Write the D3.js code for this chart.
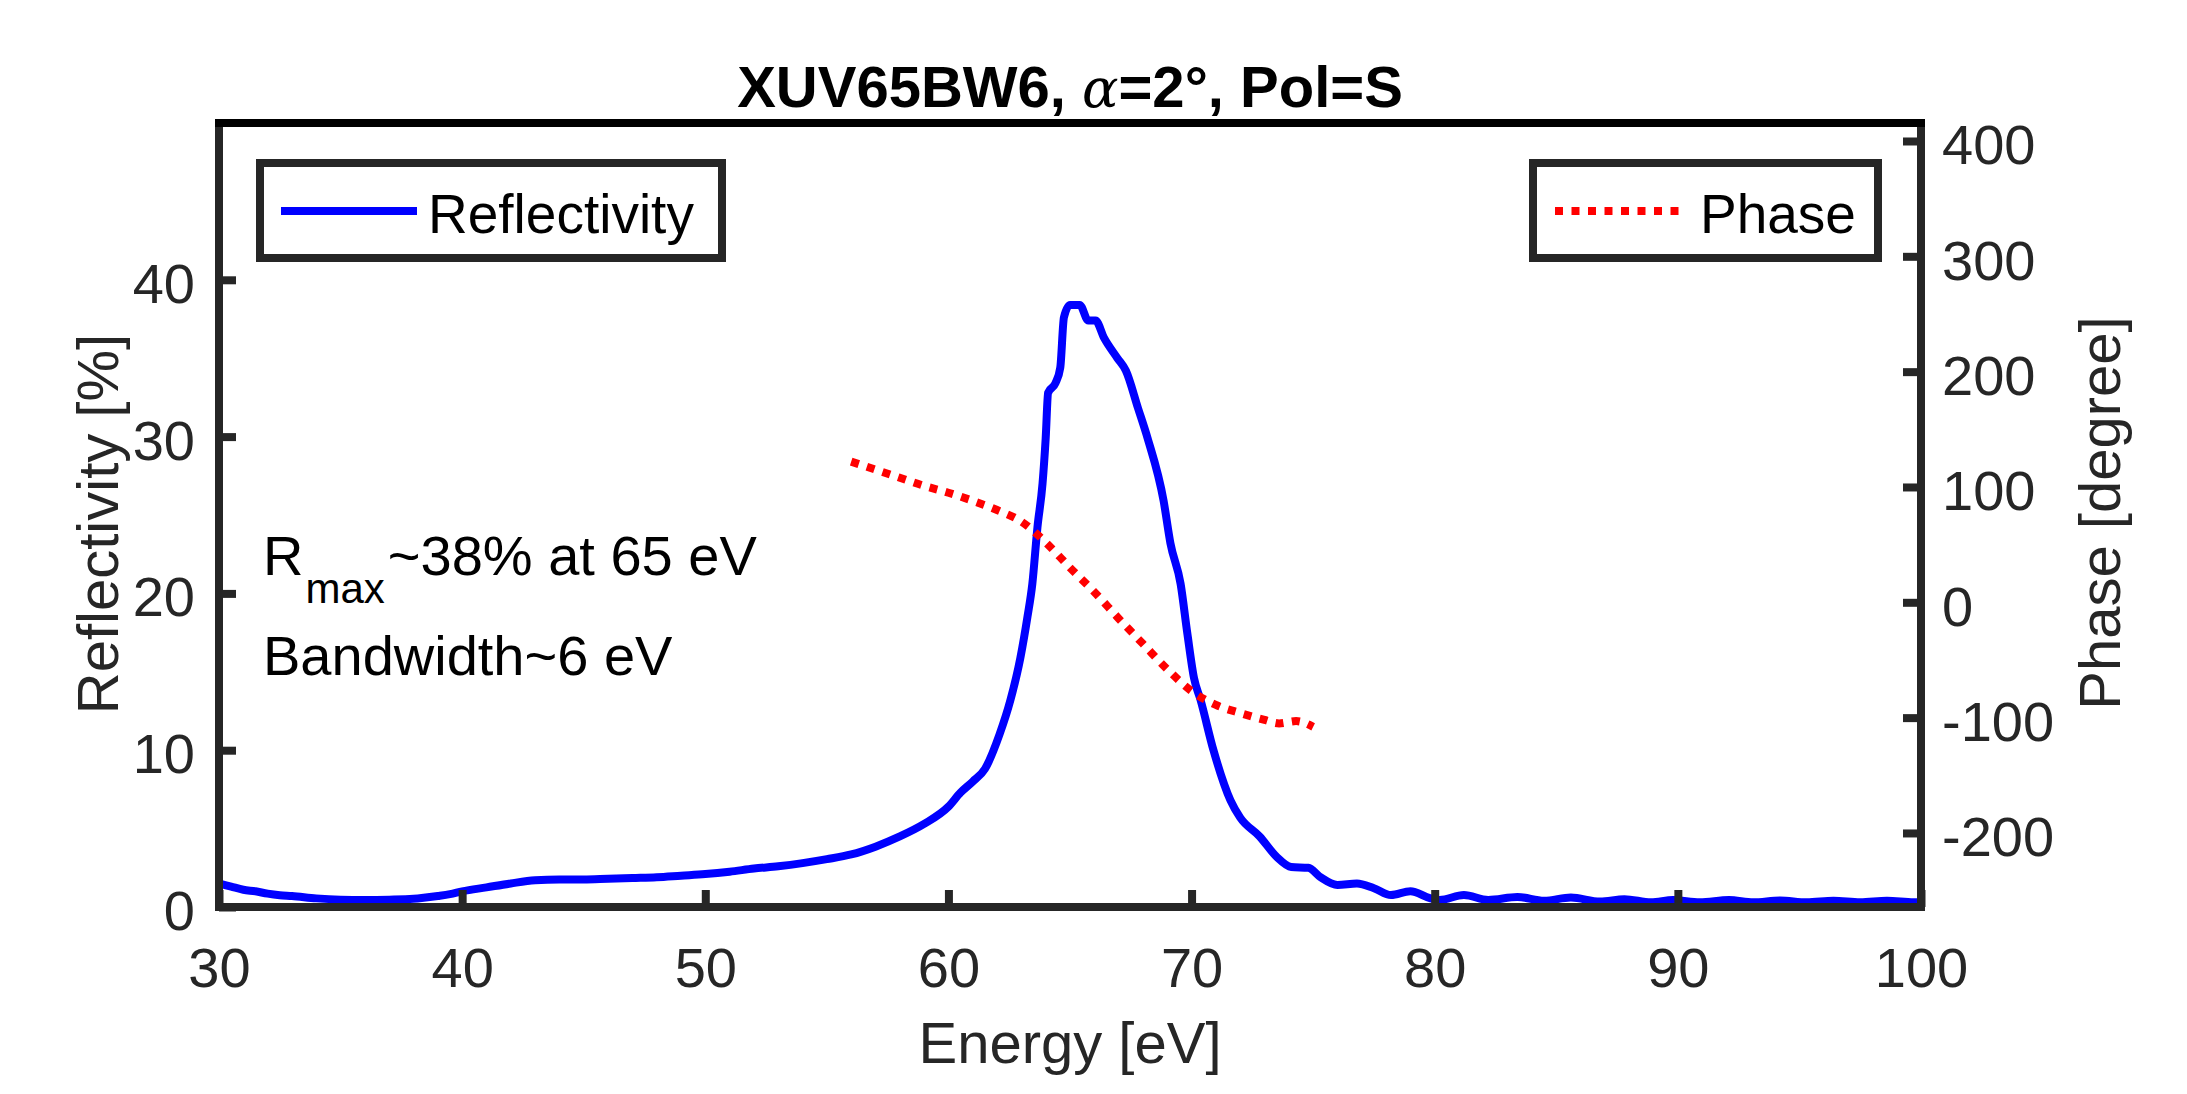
<!DOCTYPE html>
<html>
<head>
<meta charset="utf-8">
<script src="https://cdn.jsdelivr.net/npm/d3@7"></script>
<style>
  html, body { margin: 0; padding: 0; background: #fff; }
  svg { display: block; }
  text { font-family: "Liberation Sans", Arial, Helvetica, sans-serif; }
</style>
</head>
<body>
<svg id="chart" width="2187" height="1094"></svg>
<script>
// ---------------- data ----------------
const reflEnergy = [30, 30.5, 31, 31.5, 32, 32.5, 33, 34, 35, 36, 37, 38, 38.5, 39, 39.5, 40, 41, 42, 43, 44, 45, 46, 47, 48, 49, 50,
  51, 52, 53, 54, 55, 56, 57, 58, 59, 60, 60.5, 61, 61.5, 62.1, 62.55, 62.96, 63.25, 63.45, 63.66, 63.87, 64.0, 64.1, 64.4, 64.6,
  64.75, 65.0, 65.4, 65.75, 66.05, 66.4, 66.95, 67.3, 67.8, 68.19, 68.85, 69.13, 69.55, 69.83, 70.1, 70.37, 70.9, 71.6, 72.0,
  72.8, 73.5, 74.1, 74.8, 75.3, 76.0, 76.8, 77.5, 78.2, 79.0, 79.8, 80.2, 81.2, 82.2, 83.4, 84.5, 85.6, 86.8, 87.8, 88.9, 89.8,
  90.9, 92.1, 93.1, 94.2, 95.3, 96.4, 97.5, 98.6, 99.7, 100];
const reflValue = [1.5, 1.3, 1.1, 1.0, 0.85, 0.75, 0.7, 0.55, 0.47, 0.45, 0.47, 0.52, 0.6, 0.7, 0.82, 1.0, 1.25, 1.5, 1.7, 1.75, 1.75, 1.8, 1.85, 1.9, 2.0, 2.1,
  2.25, 2.45, 2.6, 2.8, 3.05, 3.35, 3.85, 4.5, 5.3, 6.4, 7.3, 8.0, 8.8, 11.0, 13.2, 15.9, 18.5, 20.6, 24.2, 27.0, 29.9, 32.8, 33.4, 34.4,
  37.6, 38.4, 38.4, 37.4, 37.4, 36.3, 35.0, 34.2, 31.8, 29.9, 25.9, 23.2, 20.6, 17.4, 14.6, 13.2, 10.0, 6.8, 5.7,
  4.5, 3.2, 2.55, 2.5, 1.9, 1.4, 1.5, 1.2, 0.76, 1.0, 0.57, 0.45, 0.76, 0.45, 0.64, 0.4, 0.6, 0.35, 0.5, 0.3, 0.45,
  0.3, 0.45, 0.3, 0.42, 0.3, 0.4, 0.3, 0.4, 0.3, 0.3];

const phaseEnergy = [56, 57, 58, 59, 60, 61, 62, 63, 64, 65, 66, 67, 68, 69, 70, 71, 72, 73, 73.6, 74.3, 75];
const phaseValue  = [122, 115, 108, 101, 95, 88, 80, 70, 52, 30, 9, -14, -36, -58, -77, -89, -96, -102, -105, -103, -108];

const xTicks = [30, 40, 50, 60, 70, 80, 90, 100];
const yLeftTicks = [0, 10, 20, 30, 40];
const yRightTicks = [-200, -100, 0, 100, 200, 300, 400];

const titleParts = ["XUV65BW6, ", "\u03B1", "=2\u00B0, Pol=S"];
const xLabel = "Energy [eV]";
const yLeftLabel = "Reflectivity [%]";
const yRightLabel = "Phase [degree]";
const legendLeft = "Reflectivity";
const legendRight = "Phase";
const note1 = ["R", "max", "~38% at 65 eV"];
const note2 = "Bandwidth~6 eV";

// ---------------- layout ----------------
const L = 219, R = 1921, T = 123, B = 907;
const axisColor = "#262626";
const svg = d3.select("#chart");

const x = d3.scaleLinear().domain([30, 100]).range([L, R]);
const yL = d3.scaleLinear().domain([0, 50]).range([B, T]);
const yR = d3.scaleLinear().domain([-264.2, 415.6]).range([B, T]);
const plainFmt = d => String(d);

// ---------------- lines ----------------
const reflData = reflEnergy.map((e, i) => [e, reflValue[i]]);
const phaseData = phaseEnergy.map((e, i) => [e, phaseValue[i]]);

svg.append("path")
  .datum(reflData)
  .attr("fill", "none")
  .attr("stroke", "#0000ff")
  .attr("stroke-width", 8)
  .attr("stroke-linejoin", "round")
  .attr("d", d3.line().x(d => x(d[0])).y(d => yL(d[1])).curve(d3.curveMonotoneX));

svg.append("path")
  .datum(phaseData)
  .attr("fill", "none")
  .attr("stroke", "#ff0000")
  .attr("stroke-width", 8)
  .attr("stroke-dasharray", "8 8.5")
  .attr("d", d3.line().x(d => x(d[0])).y(d => yR(d[1])).curve(d3.curveMonotoneX));

// ---------------- axes ----------------
const fontTick = 56;

const gx = svg.append("g").attr("transform", `translate(0,${B})`)
  .call(d3.axisBottom(x).tickValues(xTicks).tickSize(-17).tickFormat(plainFmt));
gx.select(".domain").remove();
gx.selectAll(".tick line").attr("stroke", axisColor).attr("stroke-width", 8);
gx.selectAll(".tick text").attr("y", 80).attr("dy", 0)
  .attr("font-size", fontTick).attr("fill", axisColor)
  .style("font-family", "'Liberation Sans', Arial, sans-serif");

const gyl = svg.append("g").attr("transform", `translate(${L},0)`)
  .call(d3.axisLeft(yL).tickValues(yLeftTicks).tickSize(-17).tickFormat(plainFmt));
gyl.select(".domain").remove();
gyl.selectAll(".tick line").attr("stroke", axisColor).attr("stroke-width", 8);
gyl.selectAll(".tick text").attr("x", -24).attr("dy", "0.4em")
  .attr("font-size", fontTick).attr("fill", axisColor)
  .style("font-family", "'Liberation Sans', Arial, sans-serif");

const gyr = svg.append("g").attr("transform", `translate(${R},0)`)
  .call(d3.axisRight(yR).tickValues(yRightTicks).tickSize(-18).tickFormat(plainFmt));
gyr.select(".domain").remove();
gyr.selectAll(".tick line").attr("stroke", axisColor).attr("stroke-width", 8);
gyr.selectAll(".tick text").attr("x", 21).attr("dy", "0.41em")
  .attr("font-size", fontTick).attr("fill", axisColor)
  .style("font-family", "'Liberation Sans', Arial, sans-serif");

// box
svg.append("line").attr("x1", L).attr("x2", R).attr("y1", B).attr("y2", B)
  .attr("stroke", axisColor).attr("stroke-width", 8).attr("stroke-linecap", "square");
svg.append("line").attr("x1", L).attr("x2", L).attr("y1", T).attr("y2", B)
  .attr("stroke", axisColor).attr("stroke-width", 8).attr("stroke-linecap", "square");
svg.append("line").attr("x1", R).attr("x2", R).attr("y1", T).attr("y2", B)
  .attr("stroke", axisColor).attr("stroke-width", 8).attr("stroke-linecap", "square");
svg.append("line").attr("x1", L).attr("x2", R).attr("y1", T).attr("y2", T)
  .attr("stroke", "#000").attr("stroke-width", 8).attr("stroke-linecap", "square");

// ---------------- labels ----------------
const fontLabel = 58;
svg.append("text").attr("x", (L + R) / 2).attr("y", 1063)
  .attr("text-anchor", "middle").attr("font-size", fontLabel).attr("fill", axisColor)
  .text(xLabel);

svg.append("text").attr("transform", `translate(118,524) rotate(-90)`)
  .attr("text-anchor", "middle").attr("font-size", fontLabel).attr("fill", axisColor)
  .text(yLeftLabel);

svg.append("text").attr("transform", `translate(2120,513) rotate(-90)`)
  .attr("text-anchor", "middle").attr("font-size", fontLabel).attr("fill", axisColor)
  .text(yRightLabel);

// title
const title = svg.append("text").attr("x", (L + R) / 2).attr("y", 107)
  .attr("text-anchor", "middle").attr("font-size", 58).attr("fill", "#000");
title.append("tspan").attr("font-weight", "bold").text(titleParts[0]);
title.append("tspan").style("font-family", "'DejaVu Serif', 'Liberation Serif', serif")
  .attr("font-style", "italic").attr("font-weight", "normal").attr("font-size", 54).text(titleParts[1]);
title.append("tspan").attr("font-weight", "bold").text(titleParts[2]);

// annotations
const n1 = svg.append("text").attr("x", 263).attr("y", 575).attr("font-size", 56).attr("fill", "#000");
n1.append("tspan").text(note1[0]);
n1.append("tspan").attr("font-size", 42).attr("dy", 28).attr("dx", 2).text(note1[1]);
n1.append("tspan").attr("dy", -28).attr("dx", 3).text(note1[2]);
svg.append("text").attr("x", 263).attr("y", 675).attr("font-size", 56).attr("fill", "#000").text(note2);

// ---------------- legends ----------------
svg.append("rect").attr("x", 260).attr("y", 163).attr("width", 462).attr("height", 95)
  .attr("fill", "#fff").attr("stroke", axisColor).attr("stroke-width", 8);
svg.append("line").attr("x1", 281).attr("x2", 417).attr("y1", 211).attr("y2", 211)
  .attr("stroke", "#0000ff").attr("stroke-width", 8);
svg.append("text").attr("x", 428).attr("y", 233).attr("font-size", 55).attr("fill", "#000").text(legendLeft);

svg.append("rect").attr("x", 1533).attr("y", 163).attr("width", 345).attr("height", 95)
  .attr("fill", "#fff").attr("stroke", axisColor).attr("stroke-width", 8);
svg.append("line").attr("x1", 1555).attr("x2", 1680).attr("y1", 211).attr("y2", 211)
  .attr("stroke", "#ff0000").attr("stroke-width", 8).attr("stroke-dasharray", "8 8.5");
svg.append("text").attr("x", 1700).attr("y", 233).attr("font-size", 55).attr("fill", "#000").text(legendRight);
</script>
</body>
</html>
